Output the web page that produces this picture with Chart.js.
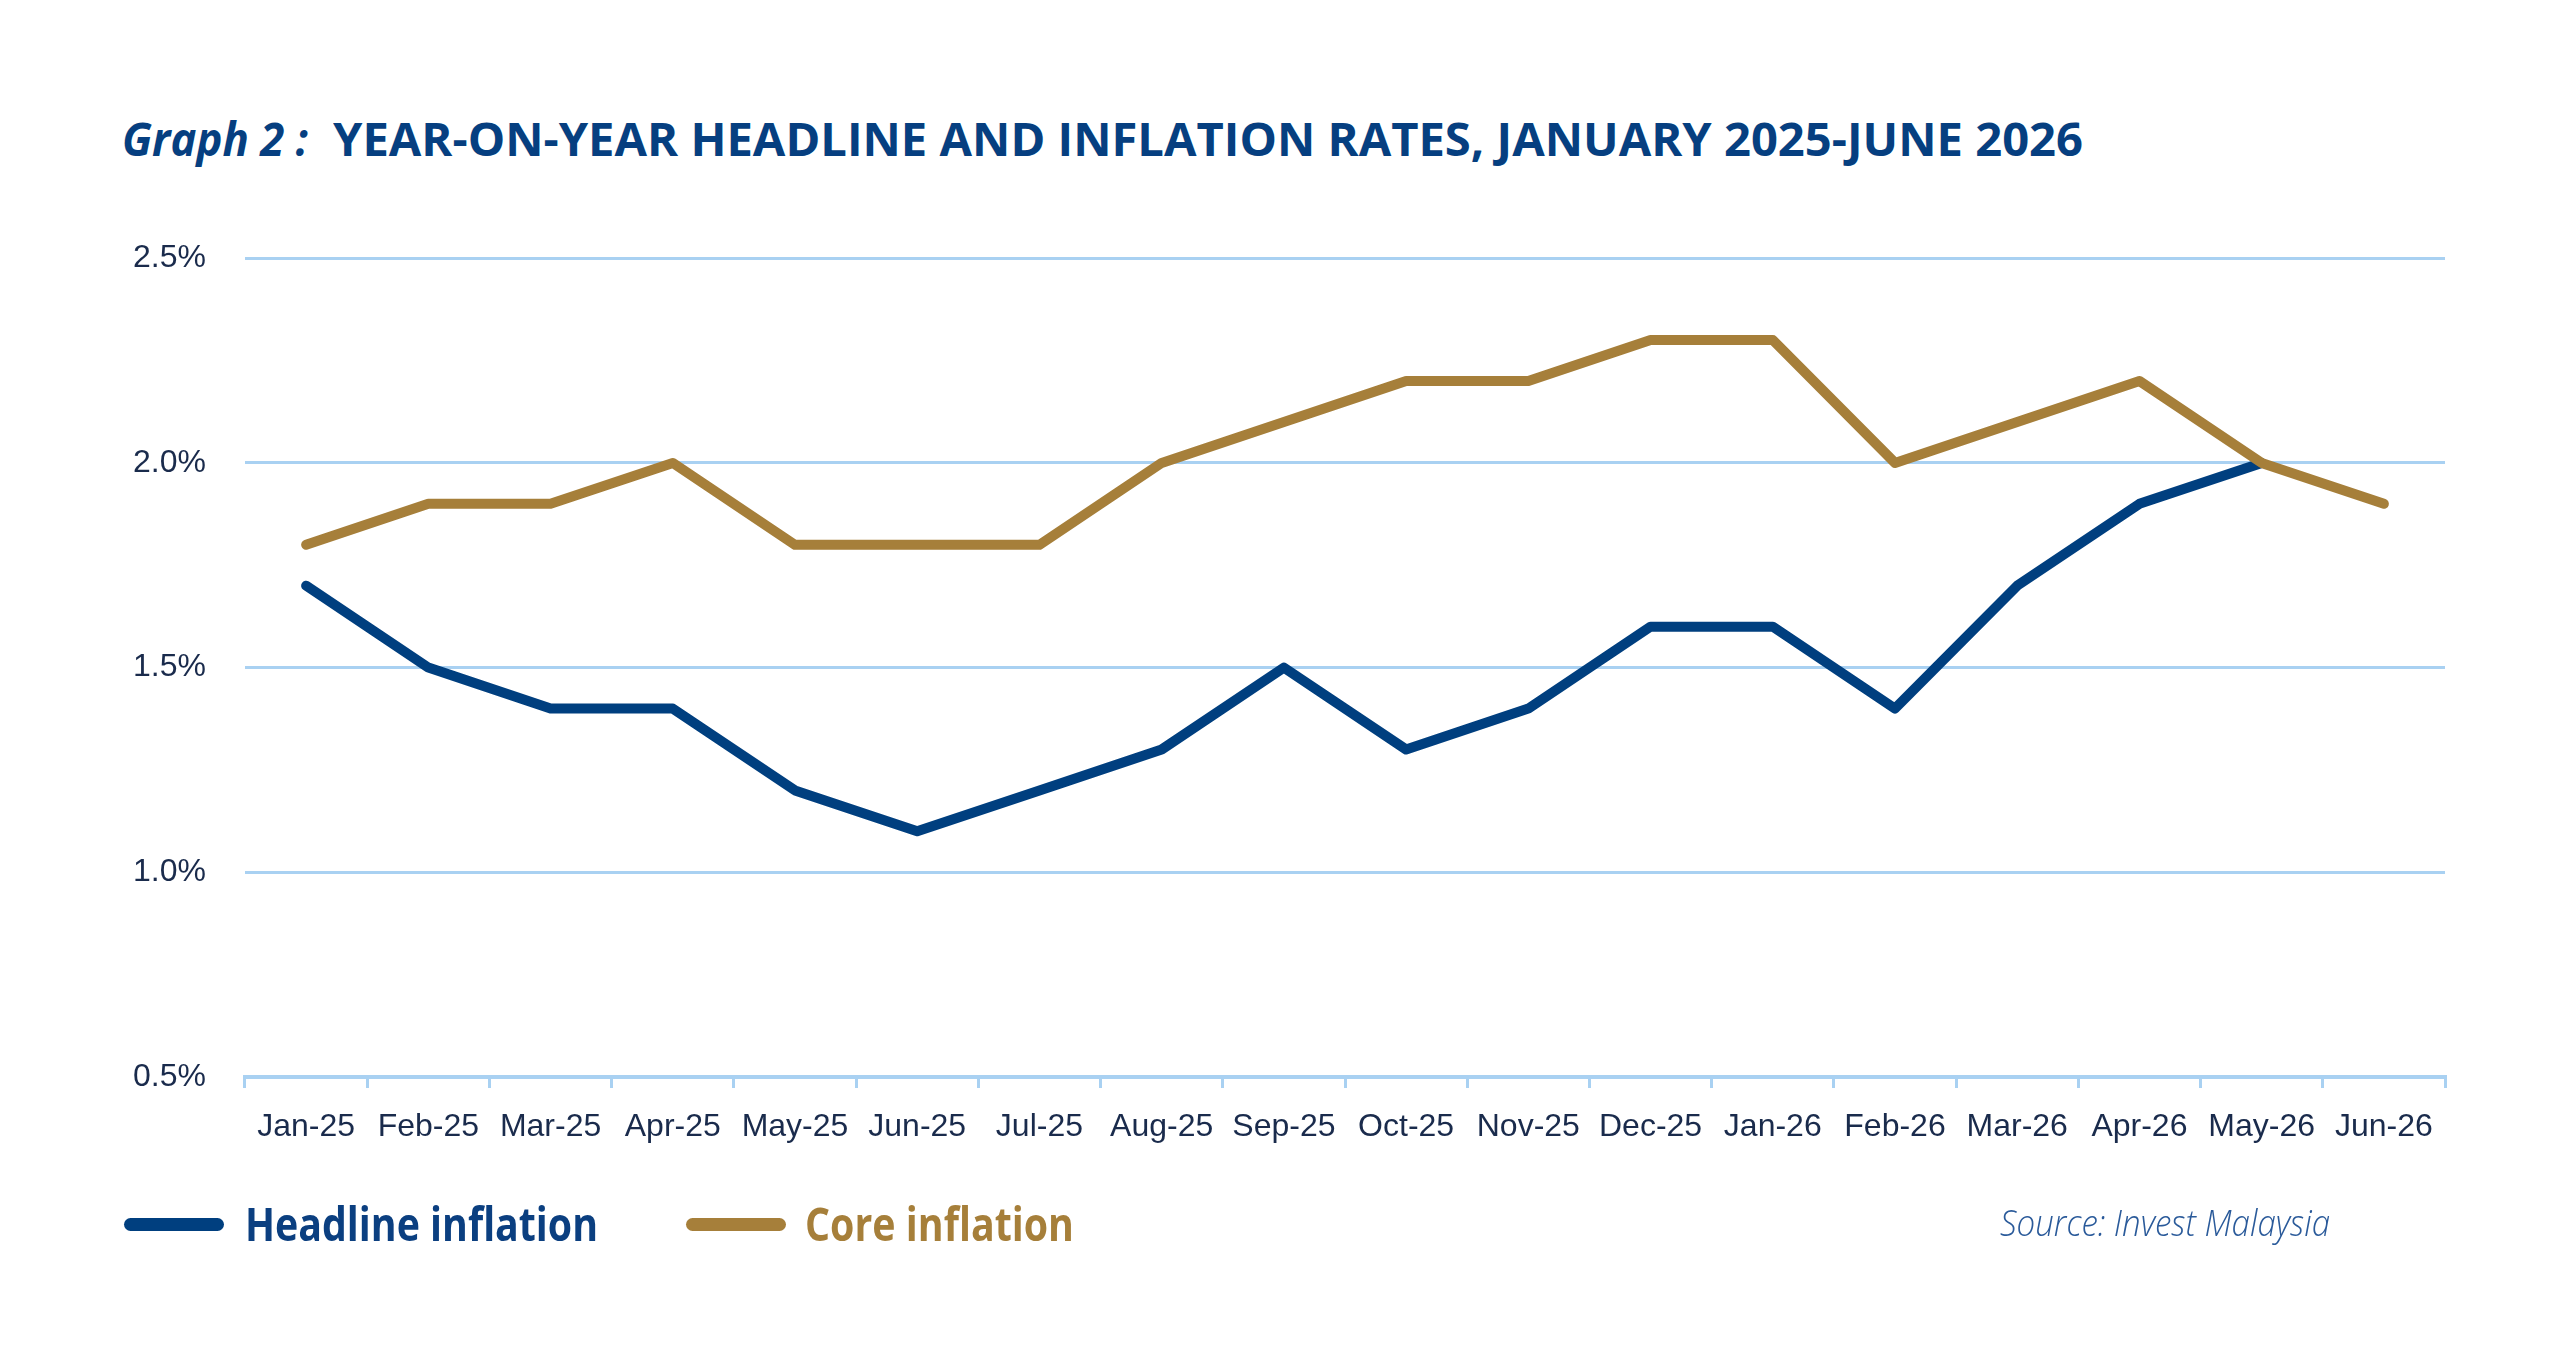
<!DOCTYPE html>
<html>
<head>
<meta charset="utf-8">
<script src="https://cdn.jsdelivr.net/npm/chart.js@4.4.1/dist/chart.umd.min.js"></script>
<style>
  html, body { margin: 0; padding: 0; background: #fff; }
  body { width: 2560px; height: 1365px; position: relative; overflow: hidden; font-family: "Open Sans", "Noto Sans", sans-serif; }
  .txt { position: absolute; white-space: nowrap; line-height: 1; transform-origin: 0 0; }
  #chartBox { position: absolute; left: 0; top: 200px; width: 2560px; height: 1000px; }
  .swatch { position: absolute; height: 13px; border-radius: 7px; }
</style>
</head>
<body>
<div class="txt" id="t1" style="left:122px; top:115px; font-size:47px; font-weight:700; font-style:italic; color:#063f80;">Graph 2 :</div>
<div class="txt" id="t2" style="left:333px; top:115px; font-size:47px; font-weight:700; color:#063f80;">YEAR-ON-YEAR HEADLINE AND INFLATION RATES, JANUARY 2025-JUNE 2026</div>

<div id="chartBox"><canvas id="myChart"></canvas></div>

<div class="swatch" style="left:124px; top:1218px; width:100px; background:#003f7f;"></div>
<div class="txt" id="l1" style="left:245px; top:1200px; font-size:46px; font-weight:700; color:#0b3f80;">Headline inflation</div>
<div class="swatch" style="left:686px; top:1218px; width:100px; background:#a67f3a;"></div>
<div class="txt" id="l2" style="left:805px; top:1200px; font-size:46px; font-weight:700; color:#a67f3a;">Core inflation</div>

<div class="txt" id="src" style="left:2000px; top:1205px; font-size:36px; font-weight:300; font-style:italic; color:#2a5a9a;">Source: Invest Malaysia</div>

<script>
// months on the x axis
const months = ["Jan-25", "Feb-25", "Mar-25", "Apr-25", "May-25", "Jun-25", "Jul-25", "Aug-25", "Sep-25",
  "Oct-25", "Nov-25", "Dec-25", "Jan-26", "Feb-26", "Mar-26", "Apr-26", "May-26", "Jun-26"];

// year-on-year rates, %
const headline = [1.7, 1.5, 1.4, 1.4, 1.2, 1.1, 1.2, 1.3, 1.5, 1.3, 1.4, 1.6, 1.6, 1.4, 1.7, 1.9, 2.0, null];
const core = [1.8, 1.9, 1.9, 2.0, 1.8, 1.8, 1.8, 2.0, 2.1, 2.2, 2.2, 2.3, 2.3, 2.0, 2.1, 2.2, 2.0, 1.9];

// y axis
const yMin = 0.5;
const yMax = 2.5;
const yStep = 0.5;

const gridBlue = "#a9d1f2";
const tickFont = { family: "'Liberation Sans', Arial, sans-serif", size: 32 };

// squeeze text to the width it has in the picture
function fitWidth(id, target) {
  let el = document.getElementById(id);
  let w = el.getBoundingClientRect().width;
  if (w > 0) el.style.transform = "scaleX(" + (target / w) + ")";
}

function drawChart() {
  let ctx = document.getElementById("myChart");
  new Chart(ctx, {
    type: "line",
    data: {
      labels: months,
      datasets: [
        {
          label: "Core inflation",
          data: core,
          borderColor: "#a67f3a",
          borderWidth: 10,
          borderCapStyle: "round",
          borderJoinStyle: "round",
          pointRadius: 0,
          tension: 0,
          order: 0,
        },
        {
          label: "Headline inflation",
          data: headline,
          borderColor: "#003f7f",
          borderWidth: 10,
          borderCapStyle: "round",
          borderJoinStyle: "round",
          pointRadius: 0,
          tension: 0,
          order: 1,
        },
      ],
    },
    options: {
      responsive: true,
      maintainAspectRatio: false,
      animation: false,
      layout: { padding: { top: 47, right: 115, left: 0, bottom: 0 } },
      plugins: {
        legend: { display: false },
        tooltip: { enabled: false },
        title: { display: false },
      },
      scales: {
        x: {
          offset: true,
          grid: {
            offset: true,
            drawOnChartArea: false,
            drawTicks: true,
            tickLength: 11,
            color: gridBlue,
            lineWidth: 3,
          },
          border: { display: true, color: gridBlue, width: 4 },
          ticks: {
            font: tickFont,
            color: "#1a2b4c",
            padding: 20,
            maxRotation: 0,
            autoSkip: false,
          },
          afterFit: function (scale) {
            scale.height = 123;
          },
        },
        y: {
          min: yMin,
          max: yMax,
          grid: { drawTicks: false, color: gridBlue, lineWidth: 3 },
          border: { display: false },
          ticks: {
            stepSize: yStep,
            font: tickFont,
            color: "#1a2b4c",
            padding: 39,
            callback: function (v) {
              return v.toFixed(1) + "%";
            },
          },
          afterFit: function (scale) {
            scale.width = 245;
          },
        },
      },
    },
  });
}

window.onload = (event) => {
  document.fonts.ready.then(function () {
    fitWidth("t1", 186);
    fitWidth("t2", 1750);
    fitWidth("l1", 353);
    fitWidth("l2", 269);
    fitWidth("src", 330);
    drawChart();
  });
};
</script>
</body>
</html>
